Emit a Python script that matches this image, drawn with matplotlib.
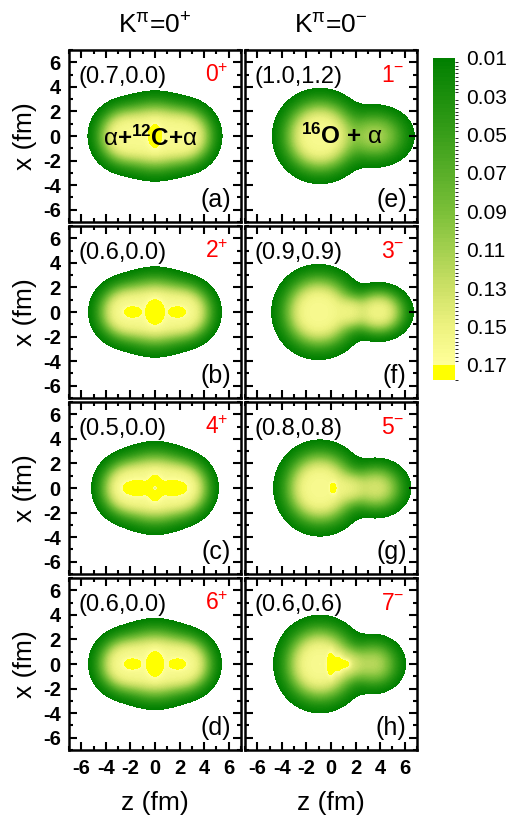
import numpy as np
import matplotlib
matplotlib.use("Agg")
import matplotlib.pyplot as plt
from matplotlib.colors import LinearSegmentedColormap, ListedColormap, BoundaryNorm
from matplotlib.cm import ScalarMappable

plt.rcParams.update({
    "font.family": ["Liberation Sans", "DejaVu Sans"],
    "mathtext.fontset": "custom",
    "mathtext.rm": "Liberation Sans",
    "mathtext.bf": "Liberation Sans:bold",
    "mathtext.it": "Liberation Sans:italic",
    "mathtext.default": "regular",
    "axes.unicode_minus": False,
})

# panel labels, states and deformation parameters
panel_tags = ["(a)", "(b)", "(c)", "(d)", "(e)", "(f)", "(g)", "(h)"]
states = ["0$^{+}$", "2$^{+}$", "4$^{+}$", "6$^{+}$", "1$^{-}$", "3$^{-}$", "5$^{-}$", "7$^{-}$"]
params = ["(0.7,0.0)", "(0.6,0.0)", "(0.5,0.0)", "(0.6,0.0)",
          "(1.0,1.2)", "(0.9,0.9)", "(0.8,0.8)", "(0.6,0.6)"]
col_titles = ["K$^{\\pi}$=0$^{+}$", "K$^{\\pi}$=0$^{-}$"]

# density envelope components: (amp, z0, x0, wz, wx)  -> rho = P*(1-exp(-S))
env_a = [(4.0, 0.0, 0.0, 1.9, 1.8), (3.0, -2.5, 0.0, 1.5, 1.55), (3.0, 2.5, 0.0, 1.5, 1.55)]
env_b = [(4.0, 0.0, 0.0, 1.9, 1.8), (3.0, -2.45, 0.0, 1.5, 1.5), (3.0, 2.45, 0.0, 1.5, 1.5)]
env_c = [(4.2, 0.0, 0.0, 1.9, 1.85), (3.0, -2.3, 0.0, 1.45, 1.5), (3.0, 2.3, 0.0, 1.45, 1.5)]
env_d = [(4.0, 0.0, 0.0, 1.9, 1.82), (3.0, -2.45, 0.0, 1.5, 1.5), (3.0, 2.45, 0.0, 1.5, 1.5)]
env_e = [(4.0, -0.9, 0.0, 1.9, 1.9), (1.1, 3.6, 0.0, 1.88, 1.5)]
env_f = [(4.0, -1.0, 0.0, 1.88, 1.9), (2.5, 3.9, 0.0, 1.46, 1.25), (1.5, 1.6, 0.0, 1.1, 1.0)]
env_g = [(4.0, -0.9, 0.0, 1.85, 1.92), (1.6, 3.7, 0.0, 1.55, 1.35), (1.2, 1.6, 0.0, 1.1, 1.0)]
env_h = [(4.0, -0.9, 0.0, 1.85, 1.95), (1.2, 3.5, 0.0, 1.5, 1.4), (1.0, 1.5, 0.0, 1.1, 1.0)]

# high-density spots added on top: (amp, z0, x0, wz, wx)
spot_a = [(0.03, 0.0, 0.0, 0.45, 0.9)]
spot_b = [(0.035, 0.0, 0.0, 0.6, 0.95), (0.03, -1.83, 0.0, 0.6, 0.38), (0.03, 1.83, 0.0, 0.6, 0.38)]
spot_c = [(0.035, -1.5, 0.0, 0.95, 0.5), (0.035, 1.5, 0.0, 0.95, 0.5),
          (0.03, 0.0, 0.0, 0.5, 1.0), (-0.06, 0.0, 0.0, 0.22, 0.22)]
spot_d = [(0.035, 0.0, 0.0, 0.55, 0.95), (0.028, -1.85, 0.0, 0.6, 0.38), (0.028, 1.85, 0.0, 0.6, 0.38)]
spot_e = []
spot_f = []
spot_g = [(0.03, 0.2, 0.0, 0.25, 0.45)]
spot_h = [(0.04, 0.0, 0.0, 0.25, 0.9), (0.04, 0.6, 0.0, 0.35, 0.65), (0.04, 1.2, 0.0, 0.35, 0.35)]

envs = [env_a, env_b, env_c, env_d, env_e, env_f, env_g, env_h]
spots = [spot_a, spot_b, spot_c, spot_d, spot_e, spot_f, spot_g, spot_h]
plateau = 0.165

cbar_ticks = [0.01, 0.03, 0.05, 0.07, 0.09, 0.11, 0.13, 0.15, 0.17]

# colour ramp
ramp = LinearSegmentedColormap.from_list("gy", [
    (0.0, (0.0, 0.50, 0.0)),
    (0.25, (0.22, 0.62, 0.10)),
    (0.5, (0.48, 0.75, 0.22)),
    (0.75, (0.80, 0.88, 0.40)),
    (0.875, (0.93, 0.95, 0.50)),
    (1.0, (1.0, 1.0, 0.60)),
])
levels = list(np.linspace(0.01, 0.17, 81))
band_cols = [ramp((i + 0.5) / 80) for i in range(80)] + [(1.0, 1.0, 0.0)]

z = np.linspace(-7, 7, 561)
Z, X = np.meshgrid(z, z)


def gsum(comps):
    out = np.zeros_like(Z)
    for a, z0, x0, wz, wx in comps:
        out += a * np.exp(-((Z - z0) / wz) ** 2 - ((X - x0) / wx) ** 2)
    return out


W, H = 508, 817
fig = plt.figure(figsize=(W / 100, H / 100), dpi=100)

col_x = [69, 245]
row_top = [50, 226, 402, 578]
aw, ah = 172, 172

for k in range(8):
    col, row = k // 4, k % 4
    ax = fig.add_axes([col_x[col] / W, 1 - (row_top[row] + ah) / H, aw / W, ah / H])
    rho = plateau * (1 - np.exp(-gsum(envs[k]))) + gsum(spots[k])
    ax.contourf(Z, X, rho, levels=levels + [1.0], colors=band_cols)
    ax.set_xlim(-7, 7)
    ax.set_ylim(-7, 7)
    ax.set_xticks(range(-6, 7, 2))
    ax.set_yticks(range(-6, 7, 2))
    ax.set_xticks(range(-7, 8, 1), minor=True)
    ax.set_yticks(range(-7, 8, 1), minor=True)
    ax.tick_params(which="both", direction="in", top=True, right=True, width=1.5)
    ax.tick_params(which="major", length=5.5)
    ax.tick_params(which="minor", length=2.8)
    ax.tick_params(axis="y", pad=6)
    ax.tick_params(axis="x", pad=6.5)
    for s in ax.spines.values():
        s.set_linewidth(1.8)
    for lab in ax.get_xticklabels() + ax.get_yticklabels():
        lab.set_fontweight("bold")
        lab.set_fontsize(14.5)
    if col == 1:
        ax.set_yticklabels([])
    else:
        ax.set_ylabel("x (fm)", fontsize=19)
        ax.yaxis.set_label_coords(-0.256, 0.5)
        ax.yaxis.label.set_va("center")
    if row < 3:
        ax.set_xticklabels([])
    else:
        ax.set_xlabel("z (fm)", fontsize=19)
        ax.xaxis.set_label_coords(0.5, -0.308)
        ax.xaxis.label.set_va("center")

    ax.text(0.058, 0.843, params[k], transform=ax.transAxes, fontsize=17, ha="left", va="center")
    ax.text(0.925, 0.85, states[k], transform=ax.transAxes, fontsize=16.5, color="red",
            ha="right", va="center")
    ax.text(0.94, 0.13, panel_tags[k], transform=ax.transAxes, fontsize=18, ha="right", va="center")

    if k == 0:
        ax.text(-0.33, -0.2, "$\\mathrm{\\alpha}$+$^{\\mathbf{12}}$C+$\\mathrm{\\alpha}$",
                fontsize=17.5, fontweight="bold", ha="center", va="center")
    if k == 4:
        ax.text(0.87, -0.05, "$^{\\mathbf{16}}$O + $\\mathrm{\\alpha}$",
                fontsize=17.5, fontweight="bold", ha="center", va="center")
    if row == 0:
        fig.text((col_x[col] + aw / 2) / W, 1 - 26 / H, col_titles[col], fontsize=19,
                 ha="center", va="center")

# colour bar
cax = fig.add_axes([433 / W, 1 - 380 / H, 22 / W, 322 / H])
cb_norm = BoundaryNorm(levels + [0.178], 81)
sm = ScalarMappable(norm=cb_norm, cmap=ListedColormap(band_cols))
cb = fig.colorbar(sm, cax=cax, ticks=cbar_ticks, spacing="proportional")
cb.outline.set_visible(False)
cax.invert_yaxis()
cax.tick_params(length=0, pad=8, labelsize=15)
cb.ax.set_yticklabels([f"{t:.2f}" for t in cbar_ticks])

fig.savefig("out.png", dpi=100)
